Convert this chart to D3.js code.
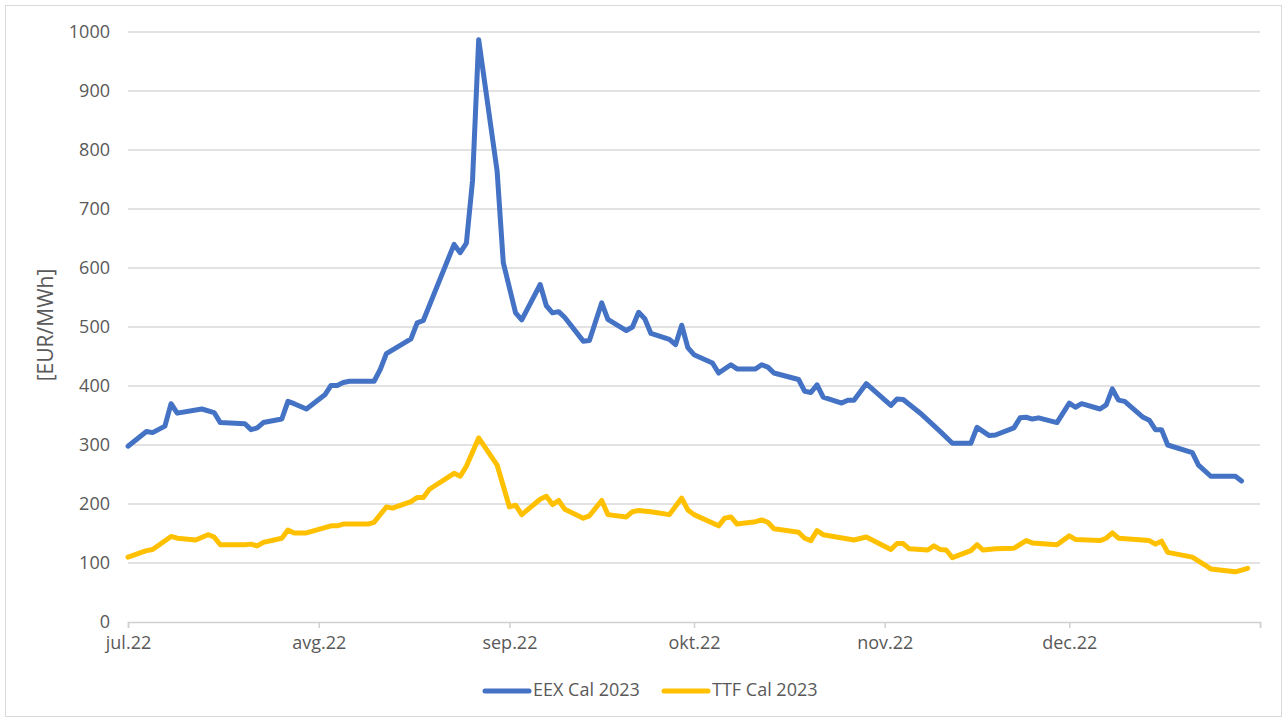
<!DOCTYPE html>
<html>
<head>
<meta charset="utf-8">
<script src="https://cdn.jsdelivr.net/npm/d3@7"></script>
<style>
  html, body { margin: 0; padding: 0; background: #fff; }
  svg { display: block; }
  text { font-family: "Open Sans", "Noto Sans", sans-serif; fill: #595959; }
</style>
</head>
<body>
<svg id="chart" width="1287" height="722"></svg>
<script>
// EEX Cal 2023 (power, EUR/MWh)
const eexDates = ["2022-07-01","2022-07-04","2022-07-05","2022-07-07","2022-07-08","2022-07-09","2022-07-13","2022-07-15","2022-07-16","2022-07-20","2022-07-21","2022-07-22","2022-07-23","2022-07-26","2022-07-27","2022-07-28","2022-07-30","2022-08-02","2022-08-03","2022-08-04","2022-08-05","2022-08-06","2022-08-10","2022-08-11","2022-08-12","2022-08-16","2022-08-17","2022-08-18","2022-08-23","2022-08-24","2022-08-25","2022-08-26","2022-08-27","2022-08-30","2022-08-31","2022-09-02","2022-09-03","2022-09-06","2022-09-07","2022-09-08","2022-09-09","2022-09-10","2022-09-13","2022-09-14","2022-09-16","2022-09-17","2022-09-20","2022-09-21","2022-09-22","2022-09-23","2022-09-24","2022-09-27","2022-09-28","2022-09-29","2022-09-30","2022-10-01","2022-10-04","2022-10-05","2022-10-07","2022-10-08","2022-10-11","2022-10-12","2022-10-13","2022-10-14","2022-10-18","2022-10-19","2022-10-20","2022-10-21","2022-10-22","2022-10-25","2022-10-26","2022-10-27","2022-10-29","2022-11-02","2022-11-03","2022-11-04","2022-11-07","2022-11-10","2022-11-12","2022-11-15","2022-11-16","2022-11-18","2022-11-19","2022-11-22","2022-11-23","2022-11-24","2022-11-25","2022-11-26","2022-11-29","2022-12-01","2022-12-02","2022-12-03","2022-12-06","2022-12-07","2022-12-08","2022-12-09","2022-12-10","2022-12-13","2022-12-14","2022-12-15","2022-12-16","2022-12-17","2022-12-21","2022-12-22","2022-12-24","2022-12-28","2022-12-29"];
const eexValues = [298,323,321,332,370,354,361,355,338,336,326,329,338,344,374,370,361,385,401,401,406,408,408,428,455,480,507,511,640,626,642,748,987,764,609,524,512,572,536,524,526,516,476,477,541,513,494,500,525,514,489,479,470,503,465,453,439,422,436,429,429,436,432,422,411,391,389,402,381,371,376,376,404,367,378,377,352,323,303,303,330,316,317,329,346,347,344,346,338,371,364,370,361,368,395,376,374,347,342,326,326,300,287,266,247,247,239];

// TTF Cal 2023 (gas, EUR/MWh)
const ttfDates = ["2022-07-01","2022-07-04","2022-07-05","2022-07-08","2022-07-09","2022-07-12","2022-07-14","2022-07-15","2022-07-16","2022-07-20","2022-07-21","2022-07-22","2022-07-23","2022-07-26","2022-07-27","2022-07-28","2022-07-30","2022-08-03","2022-08-04","2022-08-05","2022-08-09","2022-08-10","2022-08-12","2022-08-13","2022-08-16","2022-08-17","2022-08-18","2022-08-19","2022-08-23","2022-08-24","2022-08-25","2022-08-27","2022-08-30","2022-09-01","2022-09-02","2022-09-03","2022-09-06","2022-09-07","2022-09-08","2022-09-09","2022-09-10","2022-09-13","2022-09-14","2022-09-16","2022-09-17","2022-09-20","2022-09-21","2022-09-22","2022-09-24","2022-09-27","2022-09-29","2022-09-30","2022-10-01","2022-10-05","2022-10-06","2022-10-07","2022-10-08","2022-10-11","2022-10-12","2022-10-13","2022-10-14","2022-10-18","2022-10-19","2022-10-20","2022-10-21","2022-10-22","2022-10-27","2022-10-29","2022-11-02","2022-11-03","2022-11-04","2022-11-05","2022-11-08","2022-11-09","2022-11-10","2022-11-11","2022-11-12","2022-11-15","2022-11-16","2022-11-17","2022-11-19","2022-11-22","2022-11-24","2022-11-25","2022-11-29","2022-12-01","2022-12-02","2022-12-06","2022-12-07","2022-12-08","2022-12-09","2022-12-14","2022-12-15","2022-12-16","2022-12-17","2022-12-21","2022-12-23","2022-12-24","2022-12-28","2022-12-30"];
const ttfValues = [110,121,123,145,142,139,148,144,131,131,132,129,135,142,156,151,151,163,163,166,166,169,195,193,204,211,211,225,252,247,264,312,266,195,198,182,208,213,199,206,191,176,180,206,182,178,187,189,187,182,210,190,182,163,176,178,166,170,173,169,158,152,142,138,155,148,139,144,123,133,133,124,122,129,123,122,109,121,131,122,124,125,138,134,131,146,140,138,142,151,142,138,132,137,118,110,97,90,85,91];

const monthTicks = ["2022-07-01","2022-08-01","2022-09-01","2022-10-01","2022-11-01","2022-12-01","2023-01-01"];
const monthLabels = ["jul.22","avg.22","sep.22","okt.22","nov.22","dec.22",""];
const yTicks = [0,100,200,300,400,500,600,700,800,900,1000];
const seriesNames = ["EEX Cal 2023","TTF Cal 2023"];
const seriesColors = ["#4472C4","#FFC000"];

const parse = d3.timeParse("%Y-%m-%d");
const svg = d3.select("#chart");

// outer chart frame
svg.append("rect")
  .attr("x", 5.5).attr("y", 5.5)
  .attr("width", 1276).attr("height", 711)
  .attr("fill", "none").attr("stroke", "#d9d9d9").attr("stroke-width", 1);

const x = d3.scaleTime()
  .domain([parse(monthTicks[0]), parse(monthTicks[monthTicks.length - 1])])
  .range([128, 1260]);
const y = d3.scaleLinear().domain([0, 1000]).range([622, 32]);

// horizontal gridlines
svg.append("g")
  .selectAll("line")
  .data(yTicks.filter(v => v > 0))
  .join("line")
  .attr("x1", x.range()[0]).attr("x2", x.range()[1])
  .attr("y1", d => y(d)).attr("y2", d => y(d))
  .attr("stroke", "#d9d9d9").attr("stroke-width", 1.5);

// y axis labels
const yAxis = d3.axisLeft(y).tickValues(yTicks).tickSize(0).tickPadding(18).tickFormat(d3.format("d"));
const gy = svg.append("g").attr("transform", `translate(${x.range()[0]},0)`).call(yAxis);
gy.select(".domain").remove();
gy.selectAll("text")
  .style("font-size", "18px")
  .style("font-family", "'Open Sans', sans-serif")
  .attr("fill", "#595959");

// x axis
const tickDates = monthTicks.map(parse);
const xAxis = d3.axisBottom(x)
  .tickValues(tickDates)
  .tickSize(6)
  .tickPadding(8)
  .tickFormat((d, i) => monthLabels[i]);
const gx = svg.append("g").attr("transform", `translate(0,${y(0)})`).call(xAxis);
gx.select(".domain").attr("stroke", "#d0d0d0").attr("stroke-width", 1.5);
gx.selectAll(".tick line").attr("stroke", "#d0d0d0").attr("stroke-width", 1.5);
gx.selectAll("text")
  .style("font-size", "18px")
  .style("font-family", "'Open Sans', sans-serif")
  .attr("fill", "#595959");

// y axis title
svg.append("text")
  .attr("transform", "translate(47,325) rotate(-90)")
  .attr("text-anchor", "middle")
  .attr("dominant-baseline", "middle")
  .style("font-size", "21px")
  .text("[EUR/MWh]");

// series lines
const line = d3.line()
  .x(d => x(d.date))
  .y(d => y(d.value))
  .curve(d3.curveLinear);

const series = [
  eexDates.map((d, i) => ({ date: parse(d), value: eexValues[i] })),
  ttfDates.map((d, i) => ({ date: parse(d), value: ttfValues[i] }))
];

svg.append("g")
  .selectAll("path")
  .data(series)
  .join("path")
  .attr("d", line)
  .attr("fill", "none")
  .attr("stroke", (d, i) => seriesColors[i])
  .attr("stroke-width", 5)
  .attr("stroke-linejoin", "round")
  .attr("stroke-linecap", "round");

// legend
const legendX = [485, 664];
const legend = svg.append("g");
seriesNames.forEach((name, i) => {
  legend.append("line")
    .attr("x1", legendX[i]).attr("x2", legendX[i] + 44)
    .attr("y1", 691).attr("y2", 691)
    .attr("stroke", seriesColors[i])
    .attr("stroke-width", 5)
    .attr("stroke-linecap", "round");
  legend.append("text")
    .attr("x", legendX[i] + 48)
    .attr("y", 691)
    .attr("dominant-baseline", "middle")
    .style("font-size", "18px")
    .text(name);
});
</script>
</body>
</html>
